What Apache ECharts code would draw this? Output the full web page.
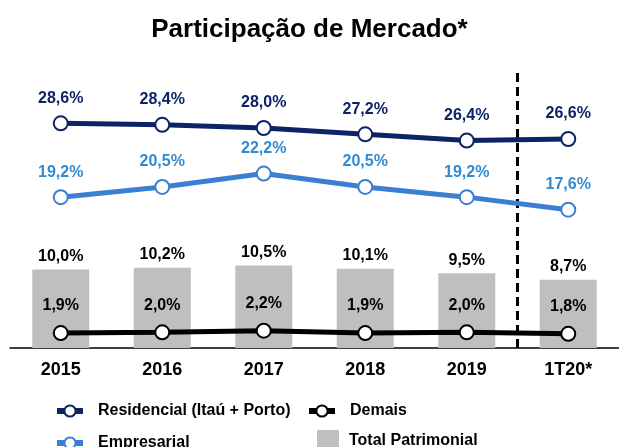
<!DOCTYPE html>
<html>
<head>
<meta charset="utf-8">
<script src="https://cdn.jsdelivr.net/npm/echarts@6/dist/echarts.min.js"></script>
<style>
  html, body { margin: 0; padding: 0; background: #fff; }
  #chart { width: 619px; height: 447px; }
</style>
</head>
<body>
<div id="chart"></div>
<script>
const categories = ["2015", "2016", "2017", "2018", "2019", "1T20*"];
const residencial = [28.6, 28.4, 28.0, 27.2, 26.4, 26.6];
const empresarial = [19.2, 20.5, 22.2, 20.5, 19.2, 17.6];
const demais = [1.9, 2.0, 2.2, 1.9, 2.0, 1.8];
const totalPatrimonial = [10.0, 10.2, 10.5, 10.1, 9.5, 8.7];
// divider sits between 2019 and 1T20* (band edge on a 0..6 scale)
const dividerAt = 5;

const font = "Liberation Sans, Arial, sans-serif";
const navy = "#0c2366";
const lightBlue = "#3b7fd2";
const lightBlueText = "#2f8bd3";

function pct(p) {
  return p.value.toFixed(1).replace(".", ",") + "%";
}

function valueLabel(color, distance) {
  return {
    show: true,
    position: "top",
    distance: distance,
    formatter: pct,
    color: color,
    fontFamily: font,
    fontWeight: "bold",
    fontSize: 16
  };
}

function lineSeries(name, data, color, textColor, dist) {
  return {
    name: name,
    type: "line",
    data: data,
    symbol: "circle",
    symbolSize: 14,
    lineStyle: { color: color, width: 5 },
    itemStyle: { color: "#fff", borderColor: color, borderWidth: 2 },
    label: valueLabel(textColor, dist),
    z: 5
  };
}

// one legend box per entry so the two columns line up
function legendBox(name, left, top, opts) {
  return Object.assign({
    left: left,
    top: top,
    itemWidth: 26,
    itemHeight: 14,
    data: [name],
    lineStyle: { width: 6 },
    textStyle: { fontFamily: font, fontWeight: "bold", fontSize: 16, color: "#000", padding: [0, 0, 0, 10] }
  }, opts || {});
}

var myChart = echarts.init(document.getElementById("chart"));

var option = {
  animation: false,
  backgroundColor: "#fff",
  title: {
    text: "Participação de Mercado*",
    left: "center",
    top: 12,
    textStyle: { fontFamily: font, fontWeight: "bold", fontSize: 26, color: "#000" }
  },
  legend: [
    legendBox("Residencial (Itaú + Porto)", 49, 398),
    legendBox("Demais", 301, 398),
    legendBox("Empresarial", 49, 430),
    legendBox("Total Patrimonial", 312, 425, {
      itemWidth: 22,
      itemHeight: 22,
      data: [{ name: "Total Patrimonial", icon: "rect" }],
      textStyle: { fontFamily: font, fontWeight: "bold", fontSize: 16, color: "#000", padding: [0, 0, 0, 5] }
    })
  ],
  grid: { left: 10, right: -5, top: 73, bottom: 99 },
  xAxis: [
    {
      type: "category",
      data: categories,
      axisLine: { lineStyle: { color: "#000", width: 1.5 } },
      axisTick: { show: false },
      axisLabel: {
        margin: 13,
        color: "#000",
        fontFamily: font,
        fontWeight: "bold",
        fontSize: 18
      }
    },
    {
      type: "value",
      min: 0,
      max: categories.length,
      show: false
    }
  ],
  yAxis: {
    type: "value",
    min: 0,
    max: 35,
    show: false,
    splitLine: { show: false }
  },
  series: [
    {
      name: "Total Patrimonial",
      type: "bar",
      data: totalPatrimonial,
      barWidth: 57,
      itemStyle: { color: "#bfbfbf" },
      label: valueLabel("#000", 5),
      z: 1
    },
    lineSeries("Residencial (Itaú + Porto)", residencial, navy, navy, 9),
    lineSeries("Empresarial", empresarial, lightBlue, lightBlueText, 9),
    lineSeries("Demais", demais, "#000", "#000", 11),
    {
      type: "line",
      xAxisIndex: 1,
      data: [],
      silent: true,
      markLine: {
        symbol: "none",
        silent: true,
        label: { show: false },
        lineStyle: { color: "#000", width: 3, type: [9, 5] },
        data: [{ xAxis: dividerAt }]
      },
      z: 3
    }
  ]
};

option && myChart.setOption(option);
</script>
</body>
</html>
